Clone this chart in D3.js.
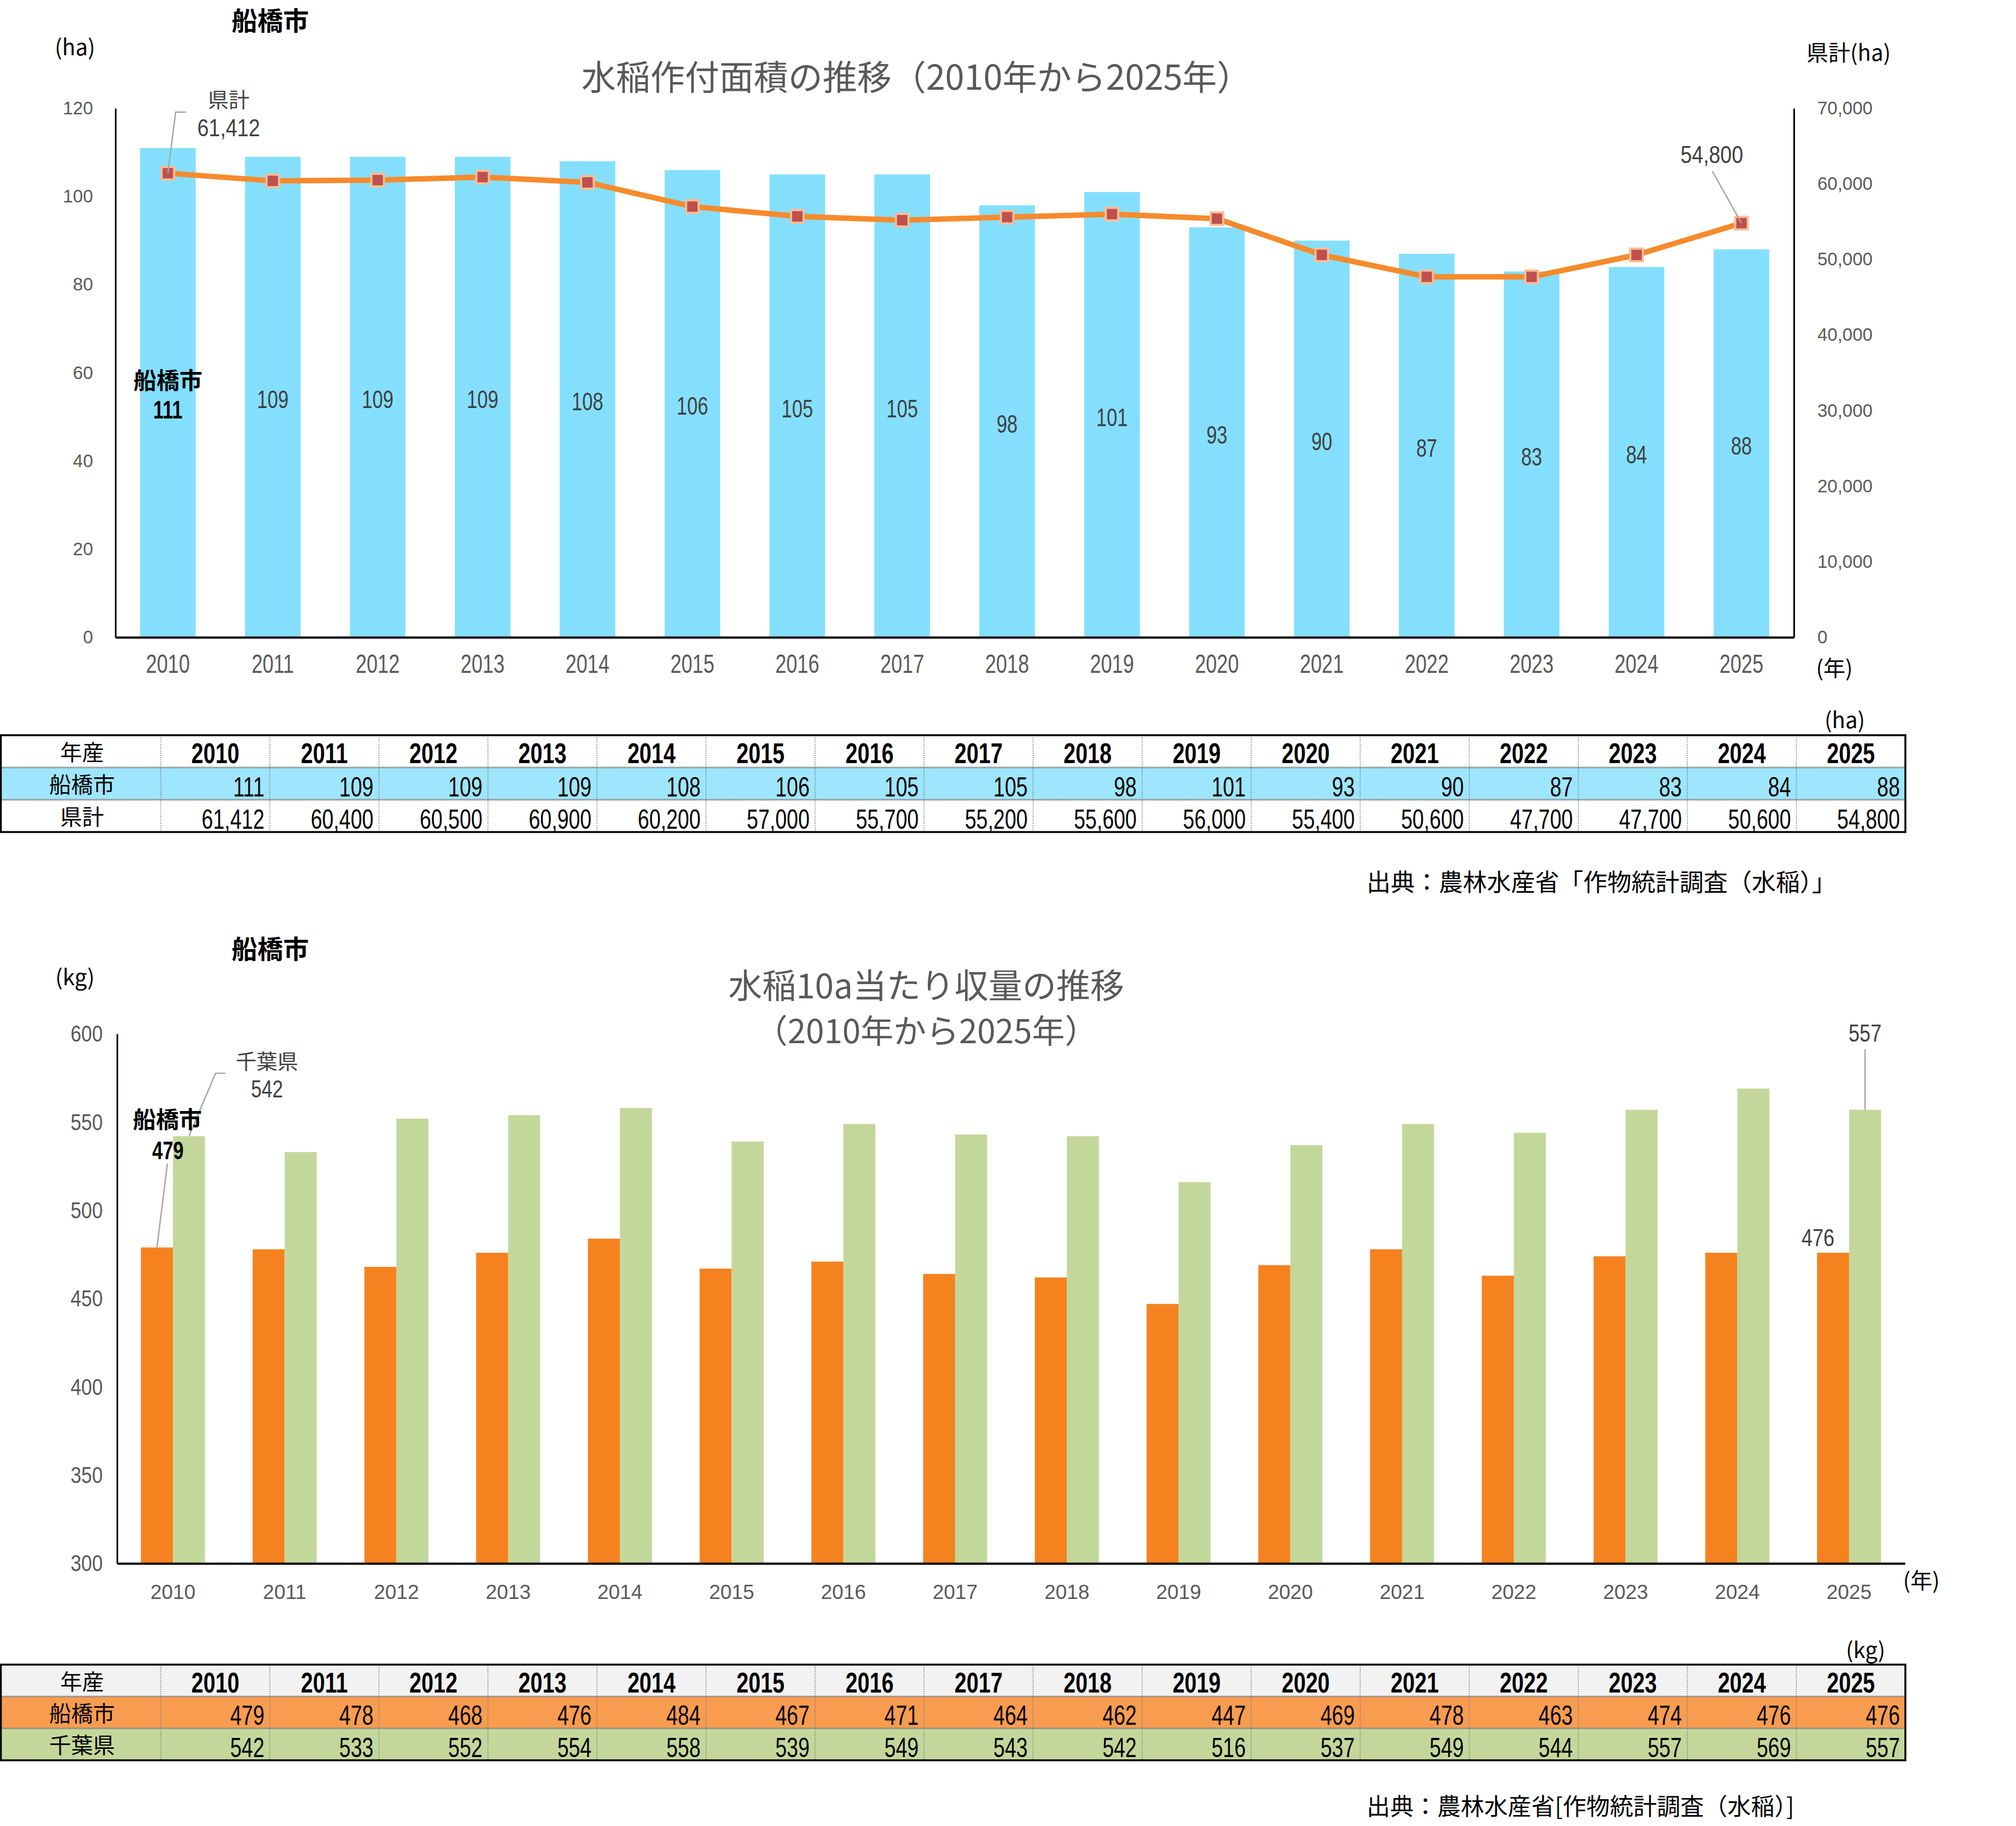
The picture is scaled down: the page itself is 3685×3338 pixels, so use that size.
<!DOCTYPE html>
<html><head><meta charset="utf-8">
<script src="https://cdn.jsdelivr.net/npm/d3@7"></script>
<style>
html,body{margin:0;padding:0;background:#fff;}
svg{display:block;font-family:"Noto Sans CJK JP","Noto Sans",sans-serif;}
</style></head><body>
<svg id="c" width="3685" height="3338"></svg>
<script>
// ---------------- data ----------------
const years = ["2010","2011","2012","2013","2014","2015","2016","2017","2018","2019","2020","2021","2022","2023","2024","2025"];
const funabashiArea = [111,109,109,109,108,106,105,105,98,101,93,90,87,83,84,88];
const prefArea = [61412,60400,60500,60900,60200,57000,55700,55200,55600,56000,55400,50600,47700,47700,50600,54800];
const funabashiYield = [479,478,468,476,484,467,471,464,462,447,469,478,463,474,476,476];
const chibaYield = [542,533,552,554,558,539,549,543,542,516,537,549,544,557,569,557];
const areaTicks = [0,20,40,60,80,100,120];
const prefTicks = [0,10000,20000,30000,40000,50000,60000,70000];
const yieldTicks = [300,350,400,450,500,550,600];

const svg = d3.select("#c");
const fmt = d3.format(",");
const NUMFONT = '"Liberation Sans","Arimo",Arial,sans-serif';

function txt(g, x, y, s, o = {}) {
  const t = g.append("text")
    .attr("transform", `translate(${x},${y}) scale(${o.sx || 1},1)`)
    .attr("text-anchor", o.anchor || "middle")
    .attr("dy", o.dy || "0.36em")
    .attr("font-size", o.size || 40)
    .attr("font-weight", o.bold ? 700 : 400)
    .attr("fill", o.fill || "#000")
    .text(s);
  if (o.num) t.attr("font-family", NUMFONT);
  return t;
}

// ================= TOP CHART =================
const T = {left: 211, right: 3279, top: 198, bottom: 1165};
const xA = d3.scaleBand().domain(years).range([T.left, T.right]).paddingInner(0.47).paddingOuter(0.235);
const yL = d3.scaleLinear().domain([0, 120]).range([T.bottom, T.top]);
const yR = d3.scaleLinear().domain([0, 70000]).range([T.bottom, T.top]);
const g1 = svg.append("g");

txt(g1, 494, 38, "船橋市", {size: 47, bold: true});
txt(g1, 137, 87, "(ha)", {size: 40});
txt(g1, 3379, 97, "県計(ha)", {size: 40});
txt(g1, 1675, 141, "水稲作付面積の推移（2010年から2025年）", {size: 63, fill: "#595959"});

// bars
g1.selectAll("rect.bar").data(funabashiArea).join("rect")
  .attr("class", "bar")
  .attr("x", (d, i) => xA(years[i]))
  .attr("width", xA.bandwidth())
  .attr("y", d => yL(d))
  .attr("height", d => yL(0) - yL(d))
  .attr("fill", "#84DFFF");

// axes
const axL = g1.append("g").attr("transform", `translate(${T.left},0)`)
  .call(d3.axisLeft(yL).tickValues(areaTicks).tickSize(0).tickSizeOuter(0).tickPadding(41));
const axR = g1.append("g").attr("transform", `translate(${T.right},0)`)
  .call(d3.axisRight(yR).tickValues(prefTicks).tickFormat(fmt).tickSize(0).tickSizeOuter(0).tickPadding(43));
const axB = g1.append("g").attr("transform", `translate(0,${T.bottom})`)
  .call(d3.axisBottom(xA).tickSize(0).tickSizeOuter(0));
[axL, axR].forEach(a => {
  a.select(".domain").attr("stroke", "#000").attr("stroke-width", 3);
  a.selectAll("text").attr("font-size", 33).attr("fill", "#595959").attr("font-family", "inherit");
});
axB.select(".domain").attr("stroke", "#000").attr("stroke-width", 4);
axB.selectAll("text").attr("y", 48).attr("dy", "0.36em").attr("font-size", 48)
  .attr("transform", "scale(0.75,1)").attr("fill", "#595959").attr("font-family", "inherit");
txt(g1, 3353, 1222, "(年)", {size: 40});

// bar value labels
funabashiArea.forEach((v, i) => {
  const cx = xA(years[i]) + xA.bandwidth() / 2;
  const cy = (yL(v) + yL(0)) / 2;
  if (i === 0) {
    txt(g1, cx, cy - 22, "船橋市", {size: 42, bold: true});
    txt(g1, cx, cy + 31, String(v), {size: 46, bold: true, sx: 0.75, num: true});
  } else {
    txt(g1, cx, cy + 4, String(v), {size: 46, sx: 0.75, fill: "#404040", num: true});
  }
});

// line + markers
const lineG = d3.line().x((d, i) => xA(years[i]) + xA.bandwidth() / 2).y(d => yR(d));
g1.append("path").datum(prefArea).attr("d", lineG)
  .attr("fill", "none").attr("stroke", "#F58B2C").attr("stroke-width", 10).attr("stroke-linejoin", "round");
g1.selectAll("rect.mk").data(prefArea).join("rect")
  .attr("class", "mk")
  .attr("x", (d, i) => xA(years[i]) + xA.bandwidth() / 2 - 11.5)
  .attr("y", d => yR(d) - 11.5)
  .attr("width", 23).attr("height", 23)
  .attr("fill", "#C0504D").attr("stroke", "#F9BE94").attr("stroke-width", 4);

// annotations top
const p0 = [xA(years[0]) + xA.bandwidth() / 2, yR(prefArea[0])];
g1.append("polyline").attr("points", `340,205 321,205 ${p0[0]},${p0[1]}`)
  .attr("fill", "none").attr("stroke", "#A6A6A6").attr("stroke-width", 2.5);
txt(g1, 418, 182, "県計", {size: 38, fill: "#404040"});
txt(g1, 418, 233, fmt(prefArea[0]), {size: 44, sx: 0.85, fill: "#404040", num: true});
const p15 = [xA(years[15]) + xA.bandwidth() / 2, yR(prefArea[15])];
g1.append("line").attr("x1", 3130).attr("y1", 313).attr("x2", p15[0]).attr("y2", p15[1])
  .attr("stroke", "#A6A6A6").attr("stroke-width", 2.5);
txt(g1, 3129, 282, fmt(prefArea[15]), {size: 44, sx: 0.85, fill: "#404040", num: true});

// ================= TABLES =================
const colX0 = 294, colW = 199.3;
function drawTable(top, rowH, rows) {
  const g = svg.append("g");
  const right = colX0 + colW * years.length;
  rows.forEach((r, ri) => {
    const y = top + ri * rowH;
    g.append("rect").attr("x", 1.5).attr("y", y).attr("width", right - 1.5).attr("height", rowH).attr("fill", r.bg);
    txt(g, 150, y + rowH / 2 + 2, r.label, {size: 40});
    r.values.forEach((v, ci) => {
      const cx = colX0 + ci * colW;
      if (r.header) txt(g, cx + colW / 2, y + rowH / 2 + 3, v, {size: 52, bold: true, sx: 0.76, num: true});
      else txt(g, cx + colW - 10, y + rowH / 2 + 5, v, {size: 50, sx: 0.75, anchor: "end", num: true});
    });
    if (ri > 0) g.append("line").attr("x1", 1.5).attr("x2", right).attr("y1", y).attr("y2", y)
      .attr("stroke", "#7F7F7F").attr("stroke-width", 3).attr("stroke-dasharray", "2,1");
  });
  for (let ci = 0; ci < years.length; ci++) {
    const x = colX0 + ci * colW;
    g.append("line").attr("x1", x).attr("x2", x).attr("y1", top).attr("y2", top + rowH * rows.length)
      .attr("stroke", "#7F7F7F").attr("stroke-width", 1.5).attr("stroke-dasharray", "2,2");
  }
  g.append("rect").attr("x", 1.5).attr("y", top).attr("width", right - 1.5).attr("height", rowH * rows.length)
    .attr("fill", "none").attr("stroke", "#000").attr("stroke-width", 3.5);
  return g;
}

txt(svg, 3372, 1317, "(ha)", {size: 40});
drawTable(1344, 59, [
  {label: "年産", values: years, header: true, bg: "#FFFFFF"},
  {label: "船橋市", values: funabashiArea.map(String), bg: "#9EE6FD"},
  {label: "県計", values: prefArea.map(fmt), bg: "#FFFFFF"}
]);
txt(svg, 2498, 1613, "出典：農林水産省「作物統計調査（水稲）」", {size: 44, anchor: "start"});

// ================= BOTTOM CHART =================
const B = {left: 214, right: 3482, top: 1890, bottom: 2858};
const x0 = d3.scaleBand().domain(years).range([B.left, B.right]).paddingInner(0.427).paddingOuter(0.2135);
const x1 = d3.scaleBand().domain(["f", "c"]).range([0, x0.bandwidth()]);
const yY = d3.scaleLinear().domain([300, 600]).range([B.bottom, B.top]);
const g2 = svg.append("g");

txt(g2, 494, 1735, "船橋市", {size: 47, bold: true});
txt(g2, 137, 1787, "(kg)", {size: 40});
txt(g2, 1693, 1803, "水稲10a当たり収量の推移", {size: 62, fill: "#595959"});
txt(g2, 1693, 1885, "（2010年から2025年）", {size: 60, fill: "#595959"});

const groups = years.map((y, i) => ({year: y, f: funabashiYield[i], c: chibaYield[i]}));
const gg = g2.selectAll("g.grp").data(groups).join("g").attr("class", "grp")
  .attr("transform", d => `translate(${x0(d.year)},0)`);
gg.append("rect").attr("x", x1("f")).attr("width", x1.bandwidth())
  .attr("y", d => yY(d.f)).attr("height", d => yY(300) - yY(d.f)).attr("fill", "#F5821F");
gg.append("rect").attr("x", x1("c")).attr("width", x1.bandwidth())
  .attr("y", d => yY(d.c)).attr("height", d => yY(300) - yY(d.c)).attr("fill", "#C4D79B");

const bL = g2.append("g").attr("transform", `translate(${B.left},0)`)
  .call(d3.axisLeft(yY).tickValues(yieldTicks).tickSize(0).tickSizeOuter(0).tickPadding(32));
bL.select(".domain").attr("stroke", "#000").attr("stroke-width", 3);
bL.selectAll("text").attr("font-size", 43).attr("transform", "scale(0.82,1)").attr("fill", "#595959").attr("font-family", "inherit");
const bB = g2.append("g").attr("transform", `translate(0,${B.bottom})`)
  .call(d3.axisBottom(x0).tickSize(0).tickSizeOuter(0));
bB.select(".domain").attr("stroke", "#000").attr("stroke-width", 4);
bB.selectAll("text").attr("y", 52).attr("dy", "0.36em").attr("font-size", 37).attr("fill", "#595959").attr("font-family", "inherit");
txt(g2, 3512, 2890, "(年)", {size: 40});

// annotations bottom
const gc0 = x0(years[0]) + x1("c") + x1.bandwidth() / 2;
const gf0 = x0(years[0]) + x1("f") + x1.bandwidth() / 2;
g2.append("polyline").attr("points", `412,1962 394,1962 ${gc0},${yY(chibaYield[0])}`)
  .attr("fill", "none").attr("stroke", "#A6A6A6").attr("stroke-width", 2.5);
txt(g2, 488, 1940, "千葉県", {size: 38, fill: "#404040"});
txt(g2, 488, 1990, String(chibaYield[0]), {size: 44, sx: 0.8, fill: "#404040", num: true});
g2.append("line").attr("x1", 306).attr("y1", 2127).attr("x2", gf0).attr("y2", yY(funabashiYield[0]))
  .attr("stroke", "#A6A6A6").attr("stroke-width", 2.5);
txt(g2, 306, 2047, "船橋市", {size: 42, bold: true});
txt(g2, 307, 2102, String(funabashiYield[0]), {size: 46, bold: true, sx: 0.75, num: true});
const gc15 = x0(years[15]) + x1("c") + x1.bandwidth() / 2;
g2.append("line").attr("x1", gc15).attr("y1", 1918).attr("x2", gc15).attr("y2", yY(chibaYield[15]))
  .attr("stroke", "#A6A6A6").attr("stroke-width", 2.5);
txt(g2, gc15, 1888, String(chibaYield[15]), {size: 45, sx: 0.8, fill: "#404040", num: true});
txt(g2, 3323, 2262, String(funabashiYield[15]), {size: 45, sx: 0.8, fill: "#404040", num: true});

txt(svg, 3410, 3017, "(kg)", {size: 40});
drawTable(3043, 58.3, [
  {label: "年産", values: years, header: true, bg: "#F2F2F2"},
  {label: "船橋市", values: funabashiYield.map(String), bg: "#F89C50"},
  {label: "千葉県", values: chibaYield.map(String), bg: "#C4D79B"}
]);
txt(svg, 2498, 3303, "出典：農林水産省[作物統計調査（水稲）]", {size: 43, anchor: "start"});
</script>
</body></html>
